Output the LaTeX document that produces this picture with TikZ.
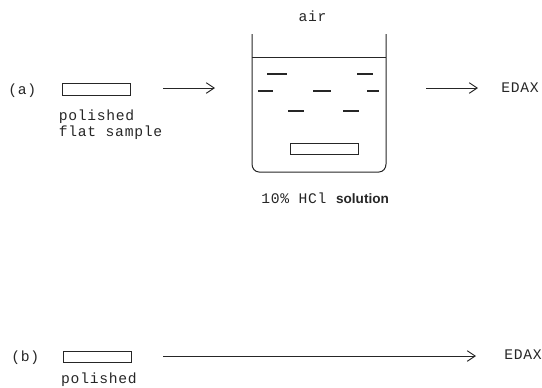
\documentclass[tikz,border=0pt]{standalone}
\usepackage{fontspec}
\setmainfont{Liberation Mono}[LetterSpace=5]
\newfontfamily\boldsans{Liberation Sans}
\usetikzlibrary{arrows.meta}
\tikzset{
  x=0.75pt,y=-0.75pt,
  lbl/.style={inner sep=0pt,font=\fontsize{11pt}{12pt}\selectfont,text=black!85,align=left},
  ink/.style={line width=0.75pt,draw=black!85},
  sample/.style={ink,fill=white},
  flow/.style={line width=0.75pt,draw=black!85,-{Straight Barb[length=6pt,width=8pt,line width=0.7pt]}},
  ion/.style={line width=0.8pt,draw=black!85},
}
\begin{document}
\begin{tikzpicture}
\useasboundingbox (0,0) rectangle (542,387);
% (a)
\node[lbl,anchor=west] (la) at (8,91) {(a)};
\draw[sample] (62,83) rectangle (130,95);
\node[lbl,anchor=north west] (pa) at (58.5,110) {polished\\flat sample};
\coordinate (a1s) at (163,88); \coordinate (a1e) at (215,88);
\draw[flow] (a1s) -- (a1e);
% beaker
\draw[ink] (252,34) -- (252,164) to[out=-90,in=180] (259,172) -- (379,172) to[out=0,in=-90] (386,164) -- (386,34);
\draw[ink] (252,57) -- (386,57);
\draw[sample] (290,143) rectangle (358,154);
\foreach \xa/\xb/\yy in {267/287/74,357/373/74,258/273/91,313/331/91,367/379/91,288/304/111,343/359/111}
  \draw[ion] (\xa,\yy) -- (\xb,\yy);
\node[lbl] (air) at (312.5,16) {air};
\node[lbl,anchor=west] (sol) at (261,198) {10\% HCl {\boldsans\bfseries\fontsize{10.2pt}{11pt}\selectfont solution}};
\coordinate (a2s) at (426,88); \coordinate (a2e) at (478,88);
\draw[flow] (a2s) -- (a2e);
\node[lbl,anchor=west] (ea) at (501,88) {EDAX};
% (b)
\node[lbl,anchor=west] (lb) at (11,358) {(b)};
\draw[sample] (63,351) rectangle (131,362);
\node[lbl] (pb) at (99,380) {polished};
\coordinate (bs) at (163,356); \coordinate (be) at (476,356);
\draw[flow] (bs) -- (be);
\node[lbl,anchor=west] (eb) at (504,355) {EDAX};
\end{tikzpicture}
\end{document}
